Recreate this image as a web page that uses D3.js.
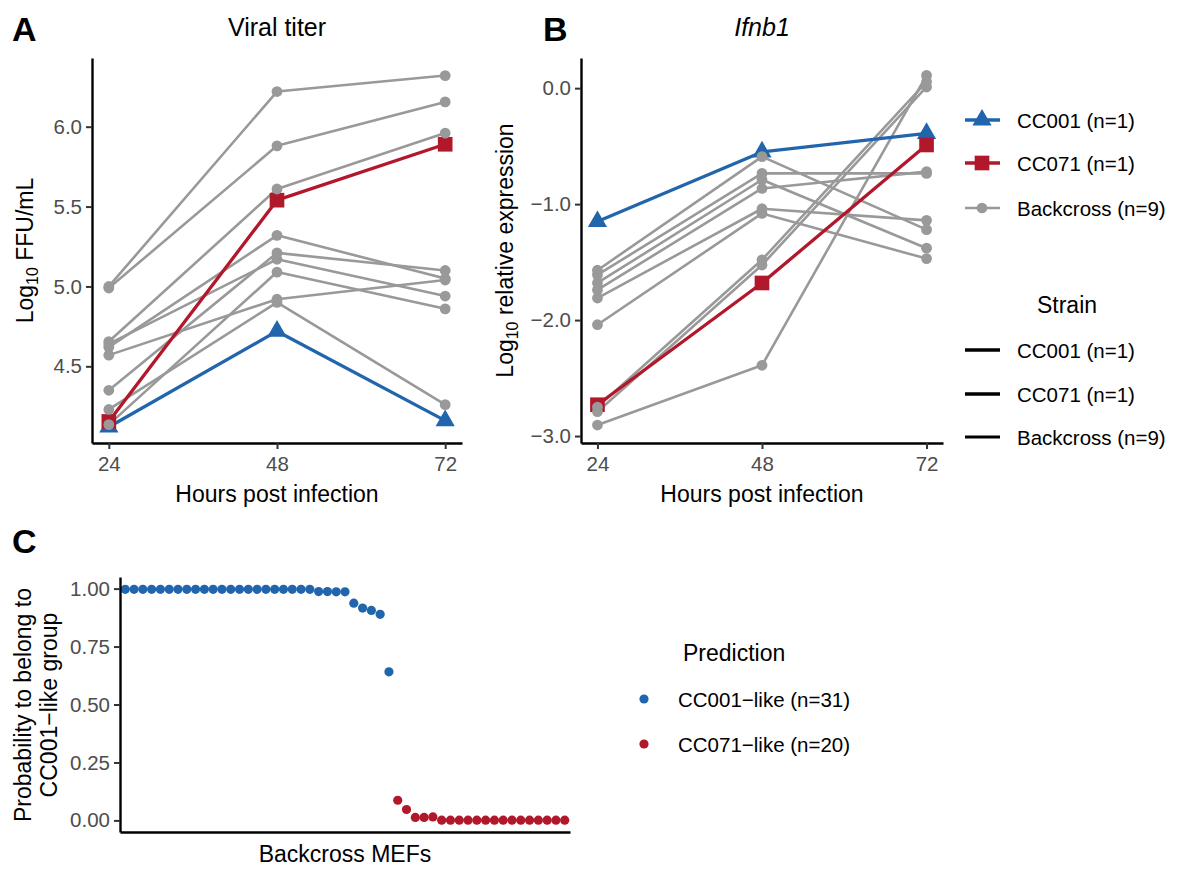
<!DOCTYPE html>
<html lang="en">
<head>
<meta charset="UTF-8">
<title>Viral titer, Ifnb1 and CC001-like prediction</title>
<script src="https://d3js.org/d3.v7.min.js"></script>
<style>
  body { margin: 0; background: #fff; }
  svg { font-family: "Liberation Sans", Arial, sans-serif; }
  .axis .tick text { fill: #4d4d4d; font-size: 20.5px; }
  .axis .domain { stroke: #000; stroke-width: 2.4; }
  .axis .tick line { stroke: #333; stroke-width: 2; }
  .title { font-size: 23px; fill: #000; }
  .tag { font-size: 34px; font-weight: bold; fill: #000; }
  .legend text { font-size: 20.5px; fill: #000; }
</style>
</head>
<body>
<svg id="fig" width="1183" height="869"></svg>
<script>
// ---- data ----
const hours = [24, 48, 72];

// A: log10 FFU/mL
const titerCC001 = [4.12, 4.72, 4.16];
const titerCC071 = [4.155, 5.54, 5.89];
const titerBackcross = [
  [5.00, 6.22, 6.32],
  [4.99, 5.88, 6.155],
  [4.655, 5.61, 5.96],
  [4.62, 5.32, 5.05],
  [4.64, 5.17, 4.94],
  [4.57, 4.92, 5.04],
  [4.35, 5.21, 5.10],
  [4.23, 4.90, 4.26],
  [4.135, 5.09, 4.86]
];

// B: log10 relative Ifnb1 expression
const ifnbCC001 = [-1.15, -0.55, -0.39];
const ifnbCC071 = [-2.73, -1.68, -0.49];
const ifnbBackcross = [
  [-1.57, -0.59, -1.22],
  [-1.61, -0.735, -0.735],
  [-1.68, -0.79, -1.38],
  [-1.74, -0.865, -0.72],
  [-1.81, -1.04, -1.14],
  [-2.04, -1.08, -1.47],
  [-2.75, -1.48, 0.055],
  [-2.79, -1.525, 0.01],
  [-2.905, -2.39, 0.11]
];

// C: probability of belonging to CC001-like group, sorted
const probability = [
  0.997, 0.997, 0.997, 0.997, 0.997, 0.997, 0.997, 0.997, 0.997, 0.997, 0.997,
  0.997, 0.997, 0.997, 0.997, 0.997, 0.997, 0.997, 0.997, 0.997, 0.997, 0.997,
  0.987, 0.987, 0.986, 0.986, 0.937, 0.916, 0.906, 0.889, 0.641,
  0.087, 0.047, 0.013, 0.013, 0.015,
  0.001, 0.001, 0.001, 0.001, 0.001, 0.001, 0.001, 0.001, 0.001, 0.001,
  0.001, 0.001, 0.001, 0.001, 0.001
];
const strainLabels = ["CC001 (n=1)", "CC071 (n=1)", "Backcross (n=9)"];
const predictionLabels = ["CC001\u2212like (n=31)", "CC071\u2212like (n=20)"];

const blue = "#2166ac", red = "#b2182b", grey = "#999999";

const svg = d3.select("#fig");
const triangle = d3.symbol().type(d3.symbolTriangle).size(160)();
const square = d3.symbol().type(d3.symbolSquare).size(215)();
const circle = d3.symbol().type(d3.symbolCircle).size(90)();

// draws one of the two time-course panels
function timePanel(opt) {
  const x = d3.scaleLinear().domain([21.6, 74.4]).range([opt.left, opt.right]);
  const y = d3.scaleLinear().domain(opt.yDomain).range([opt.bottom, opt.top]);
  const g = svg.append("g");

  const line = d3.line().x((d, i) => x(hours[i])).y(d => y(d));

  g.selectAll("path.bc").data(opt.backcross).enter().append("path")
    .attr("d", line).attr("fill", "none")
    .attr("stroke", grey).attr("stroke-width", 2.6).attr("stroke-linejoin", "round");
  g.append("path").attr("d", line(opt.cc001)).attr("fill", "none")
    .attr("stroke", blue).attr("stroke-width", 3.3).attr("stroke-linejoin", "round");
  g.append("path").attr("d", line(opt.cc071)).attr("fill", "none")
    .attr("stroke", red).attr("stroke-width", 3.3).attr("stroke-linejoin", "round");

  g.selectAll("path.tri").data(opt.cc001).enter().append("path")
    .attr("d", triangle).attr("fill", blue)
    .attr("transform", (d, i) => `translate(${x(hours[i])},${y(d)})`);
  g.selectAll("path.sq").data(opt.cc071).enter().append("path")
    .attr("d", square).attr("fill", red)
    .attr("transform", (d, i) => `translate(${x(hours[i])},${y(d)})`);
  opt.backcross.forEach(row => {
    g.selectAll(null).data(row).enter().append("circle")
      .attr("cx", (d, i) => x(hours[i])).attr("cy", d => y(d))
      .attr("r", 5.4).attr("fill", grey);
  });

  g.append("g").attr("class", "axis")
    .attr("transform", `translate(0,${opt.bottom})`)
    .call(d3.axisBottom(x).tickValues(hours).tickSize(6).tickSizeOuter(0).tickPadding(7));
  g.append("g").attr("class", "axis")
    .attr("transform", `translate(${opt.left},0)`)
    .call(d3.axisLeft(y).tickValues(opt.yTicks).tickFormat(d3.format(".1f"))
      .tickSize(6).tickSizeOuter(0).tickPadding(4));

  const cx = (opt.left + opt.right) / 2;
  g.append("text").attr("class", "title").attr("x", cx).attr("y", 502)
    .attr("text-anchor", "middle").text("Hours post infection");
  g.append("text").attr("class", "title").attr("x", cx).attr("y", 36)
    .attr("text-anchor", "middle").style("font-size", "25px")
    .style("font-style", opt.italic ? "italic" : "normal").text(opt.title);
  g.append("text").attr("class", "tag").attr("x", opt.tagX).attr("y", 41).text(opt.tag);

  const yt = g.append("text").attr("class", "title")
    .attr("transform", `translate(${opt.yTitleX},${(opt.top + opt.bottom) / 2}) rotate(-90)`)
    .attr("text-anchor", "middle");
  yt.append("tspan").text("Log");
  yt.append("tspan").attr("dy", 5).style("font-size", "16px").text("10");
  yt.append("tspan").attr("dy", -5).text(opt.yLabel);
}

timePanel({
  left: 92, right: 462, top: 58, bottom: 443,
  yDomain: [4.02, 6.43], yTicks: [4.5, 5.0, 5.5, 6.0],
  cc001: titerCC001, cc071: titerCC071, backcross: titerBackcross,
  title: "Viral titer", italic: false, tag: "A", tagX: 12,
  yTitleX: 33, yLabel: " FFU/mL"
});
timePanel({
  left: 581, right: 943, top: 58, bottom: 443,
  yDomain: [-3.06, 0.26], yTicks: [-3, -2, -1, 0],
  cc001: ifnbCC001, cc071: ifnbCC071, backcross: ifnbBackcross,
  title: "Ifnb1", italic: true, tag: "B", tagX: 543,
  yTitleX: 513, yLabel: " relative expression"
});

// ---- strain legends ----
const leg = svg.append("g").attr("class", "legend");
const keyShapes = [triangle, square, circle];
const keyColors = [blue, red, grey];
const keyY = [120, 163, 208];
strainLabels.forEach((lab, i) => {
  leg.append("line").attr("x1", 965).attr("x2", 1000).attr("y1", keyY[i]).attr("y2", keyY[i])
    .attr("stroke", keyColors[i]).attr("stroke-width", i < 2 ? 3.3 : 2.6);
  leg.append("path").attr("d", keyShapes[i]).attr("fill", keyColors[i])
    .attr("transform", `translate(982,${keyY[i]})`);
  leg.append("text").attr("x", 1017).attr("y", keyY[i] + 7.5).text(lab);
});
leg.append("text").attr("class", "title").attr("x", 1067).attr("y", 313)
  .attr("text-anchor", "middle").style("font-size", "23px").text("Strain");
const lwY = [350, 394, 437];
strainLabels.forEach((lab, i) => {
  leg.append("line").attr("x1", 965).attr("x2", 1000).attr("y1", lwY[i]).attr("y2", lwY[i])
    .attr("stroke", "#000").attr("stroke-width", i < 2 ? 3.6 : 2.8);
  leg.append("text").attr("x", 1017).attr("y", lwY[i] + 7.5).text(lab);
});

// ---- panel C ----
const ids = probability.map((d, i) => "MEF" + (i + 1));
const xc = d3.scalePoint().domain(ids).range([120, 570]).padding(0.6);
const yc = d3.scaleLinear().domain([-0.05, 1.05]).range([832, 577]);
const gc = svg.append("g");
gc.selectAll("circle").data(probability).enter().append("circle")
  .attr("cx", (d, i) => xc(ids[i])).attr("cy", d => yc(d)).attr("r", 4.6)
  .attr("fill", d => d >= 0.5 ? blue : red);
gc.append("g").attr("class", "axis").attr("transform", "translate(0,832)")
  .call(d3.axisBottom(xc).tickValues([]).tickSizeOuter(0));
gc.append("g").attr("class", "axis").attr("transform", "translate(120,0)")
  .call(d3.axisLeft(yc).tickValues([0, 0.25, 0.5, 0.75, 1]).tickFormat(d3.format(".2f"))
    .tickSize(6).tickSizeOuter(0).tickPadding(4));
gc.append("text").attr("class", "title").attr("x", 345).attr("y", 862)
  .attr("text-anchor", "middle").text("Backcross MEFs");
gc.append("text").attr("class", "tag").attr("x", 12).attr("y", 553).text("C");
const yct = gc.append("text").attr("class", "title").attr("text-anchor", "middle")
  .attr("transform", "translate(0,705) rotate(-90)");
yct.append("tspan").attr("x", 0).attr("y", 31).text("Probability to belong to");
yct.append("tspan").attr("x", 0).attr("y", 57).text("CC001\u2212like group");

const legC = svg.append("g").attr("class", "legend");
legC.append("text").attr("class", "title").attr("x", 683).attr("y", 661)
  .style("font-size", "23px").text("Prediction");
[blue, red].forEach((c, i) => {
  const yy = [699, 744][i];
  legC.append("circle").attr("cx", 644).attr("cy", yy).attr("r", 4.6).attr("fill", c);
  legC.append("text").attr("x", 678).attr("y", yy + 7.5).text(predictionLabels[i]);
});
</script>
</body>
</html>
